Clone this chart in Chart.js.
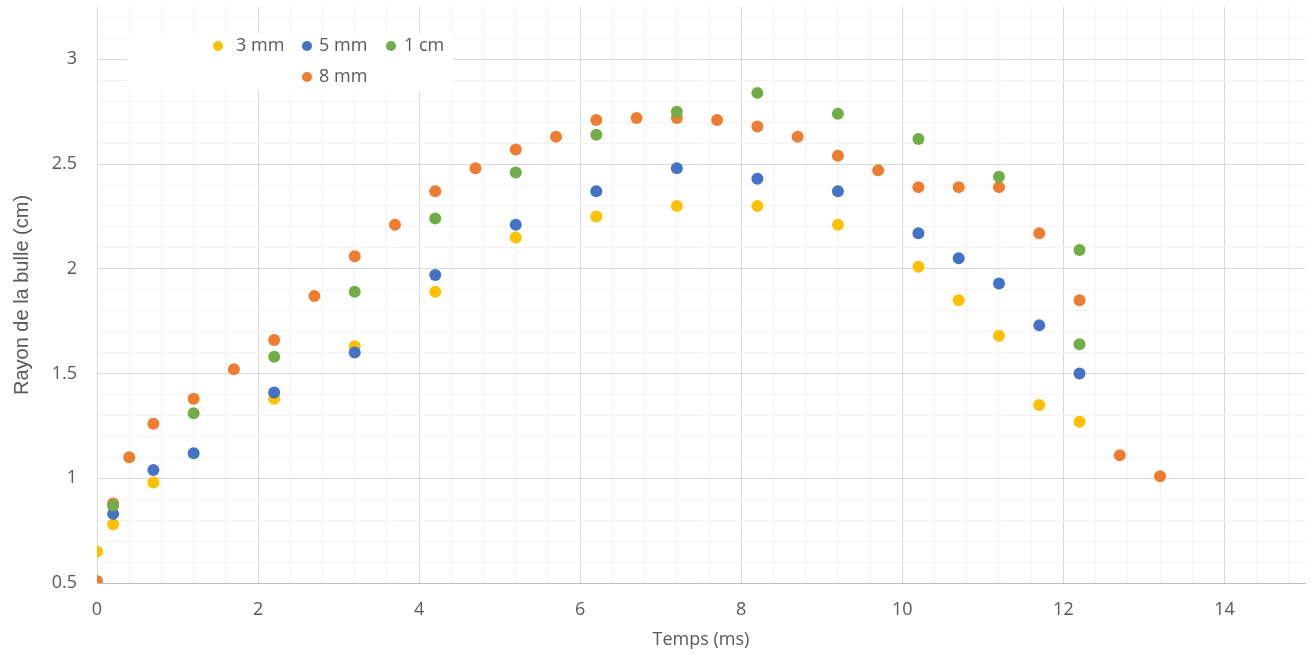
<!DOCTYPE html>
<html>
<head>
<meta charset="utf-8">
<script src="https://cdn.jsdelivr.net/npm/chart.js@4/dist/chart.umd.min.js"></script>
<style>
    html, body { margin: 0; padding: 0; background: #fff; }
    #wrap { width: 1311px; height: 655px; position: relative; }
</style>
</head>
<body>
<div id="wrap"><canvas id="bubbleChart"></canvas></div>
<script>
// Data: time (ms) and bubble radius (cm)
const seriesLabels = ['3 mm', '5 mm', '1 cm', '8 mm'];
const seriesColors = ['#FFC000', '#4472C4', '#70AD47', '#ED7D31'];

const x3mm = [0, 0.2, 0.7, 2.2, 3.2, 4.2, 5.2, 6.2, 7.2, 8.2, 9.2, 10.2, 10.7, 11.2, 11.7, 12.2];
const y3mm = [0.65, 0.78, 0.98, 1.38, 1.63, 1.89, 2.15, 2.25, 2.30, 2.30, 2.21, 2.01, 1.85, 1.68, 1.35, 1.27];

const x5mm = [0.2, 0.7, 1.2, 2.2, 3.2, 4.2, 5.2, 6.2, 7.2, 8.2, 9.2, 10.2, 10.7, 11.2, 11.7, 12.2];
const y5mm = [0.83, 1.04, 1.12, 1.41, 1.60, 1.97, 2.21, 2.37, 2.48, 2.43, 2.37, 2.17, 2.05, 1.93, 1.73, 1.50];

const x1cm = [0.2, 1.2, 2.2, 3.2, 4.2, 5.2, 6.2, 7.2, 8.2, 9.2, 10.2, 11.2, 12.2, 12.2];
const y1cm = [0.87, 1.31, 1.58, 1.89, 2.24, 2.46, 2.64, 2.75, 2.84, 2.74, 2.62, 2.44, 2.09, 1.64];

const x8mm = [0, 0.2, 0.4, 0.7, 1.2, 1.7, 2.2, 2.7, 3.2, 3.7, 4.2, 4.7, 5.2, 5.7, 6.2, 6.7, 7.2, 7.7, 8.2, 8.7, 9.2, 9.7, 10.2, 10.7, 11.2, 11.7, 12.2, 12.7, 13.2];
const y8mm = [0.51, 0.88, 1.10, 1.26, 1.38, 1.52, 1.66, 1.87, 2.06, 2.21, 2.37, 2.48, 2.57, 2.63, 2.71, 2.72, 2.72, 2.71, 2.68, 2.63, 2.54, 2.47, 2.39, 2.39, 2.39, 2.17, 1.85, 1.11, 1.01];

const xTitle = 'Temps (ms)';
const yTitle = 'Rayon de la bulle (cm)';

const toPoints = (xs, ys) => xs.map((x, i) => ({ x: x, y: ys[i] }));

const seriesData = [
    toPoints(x3mm, y3mm),
    toPoints(x5mm, y5mm),
    toPoints(x1cm, y1cm),
    toPoints(x8mm, y8mm)
];
// draw order: green on top, then orange, blue, yellow
const drawOrder = [3, 2, 0, 1];

const textColor = '#595959';
const fontFamily = '"Open Sans", "Segoe UI", sans-serif';

const isMultiple = (v, step) => Math.abs(v / step - Math.round(v / step)) < 1e-6;

// Legend drawn inside the plot area, like the original
const insideLegend = {
    id: 'insideLegend',
    afterDraw(chart) {
        const ctx = chart.ctx;
        const items = [
            { i: 0, x: 218, y: 46, gap: 18 },
            { i: 1, x: 307, y: 46, gap: 12 },
            { i: 2, x: 391, y: 46, gap: 13 },
            { i: 3, x: 307, y: 77, gap: 12 }
        ];
        ctx.save();
        ctx.fillStyle = '#ffffff';
        ctx.fillRect(127, 33, 326, 58);
        ctx.font = '18px ' + fontFamily;
        ctx.textBaseline = 'middle';
        items.forEach(it => {
            ctx.fillStyle = seriesColors[it.i];
            ctx.beginPath();
            ctx.arc(it.x, it.y, 5, 0, Math.PI * 2);
            ctx.fill();
            ctx.fillStyle = textColor;
            ctx.fillText(seriesLabels[it.i], it.x + it.gap, it.y);
        });
        ctx.restore();
    }
};

const ctx = document.getElementById('bubbleChart').getContext('2d');
new Chart(ctx, {
    type: 'scatter',
    data: {
        datasets: seriesData.map((pts, i) => ({
            label: seriesLabels[i],
            data: pts,
            backgroundColor: seriesColors[i],
            borderColor: seriesColors[i],
            borderWidth: 0,
            pointRadius: 6,
            pointHoverRadius: 6,
            order: drawOrder[i]
        }))
    },
    options: {
        responsive: true,
        maintainAspectRatio: false,
        animation: false,
        layout: { padding: { top: 7, right: 6, left: 0, bottom: 0 } },
        plugins: {
            legend: { display: false },
            tooltip: { enabled: false }
        },
        scales: {
            x: {
                type: 'linear',
                min: 0,
                max: 15,
                afterBuildTicks: scale => {
                    const t = [];
                    for (let k = 0; k <= 37; k++) t.push({ value: Math.round(k * 4) / 10 });
                    scale.ticks = t;
                },
                afterFit: scale => {
                    scale.height = 72;
                    scale.paddingLeft = 0;
                    scale.paddingRight = 0;
                },
                grid: {
                    drawTicks: false,
                    color: c => isMultiple(c.tick.value, 2) ? '#d9d9d9' : '#f2f2f2',
                    lineWidth: 1
                },
                border: { color: '#bfbfbf' },
                ticks: {
                    autoSkip: false,
                    maxRotation: 0,
                    padding: 16,
                    color: textColor,
                    font: { family: fontFamily, size: 18 },
                    callback: v => isMultiple(v, 2) ? String(v) : ''
                },
                title: {
                    display: true,
                    text: xTitle,
                    color: textColor,
                    font: { family: fontFamily, size: 18 },
                    padding: { top: 8 }
                }
            },
            y: {
                type: 'linear',
                min: 0.5,
                max: 3.25,
                afterBuildTicks: scale => {
                    const t = [];
                    for (let k = 5; k <= 32; k++) t.push({ value: k / 10 });
                    scale.ticks = t;
                },
                afterFit: scale => {
                    scale.width = 97;
                    scale.paddingTop = 0;
                    scale.paddingBottom = 0;
                },
                grid: {
                    drawTicks: false,
                    color: c => isMultiple(c.tick.value, 0.5) ? '#d9d9d9' : '#f2f2f2',
                    lineWidth: 1
                },
                border: { color: '#d9d9d9' },
                ticks: {
                    autoSkip: false,
                    padding: 20,
                    color: textColor,
                    font: { family: fontFamily, size: 18 },
                    callback: v => isMultiple(v, 0.5) ? String(v) : ''
                },
                title: {
                    display: true,
                    text: yTitle,
                    color: textColor,
                    font: { family: '"Liberation Sans", Arial, sans-serif', size: 20 },
                    padding: { bottom: 4, top: 10 }
                }
            }
        }
    },
    plugins: [insideLegend]
});
</script>
</body>
</html>
